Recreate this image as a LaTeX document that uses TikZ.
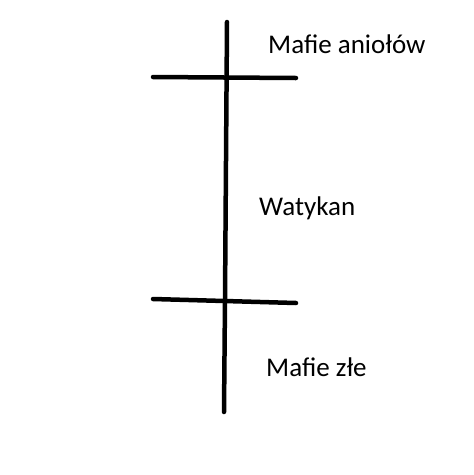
\documentclass[tikz,border=0pt]{standalone}
\usepackage{fontspec}
\setmainfont{Carlito}
\begin{document}
\begin{tikzpicture}[x=1pt,y=-1pt,
  stroke/.style={line width=4.5pt,line cap=round,black},
  label/.style={anchor=base west,inner sep=0pt,font=\fontsize{27}{31}\selectfont}]
\useasboundingbox (0,0) rectangle (474,475);
\fill[white] (0,0) rectangle (474,475);
\coordinate (vtop) at (227,22);
\coordinate (vmid) at (225,300);
\coordinate (vbot) at (224,412);
\draw[stroke] (vtop) -- (vmid) -- (vbot);
\coordinate (h1l) at (153,77);
\coordinate (h1r) at (296,78);
\draw[stroke] (h1l) -- (h1r);
\coordinate (h2l) at (153,299);
\coordinate (h2r) at (296,303);
\draw[stroke] (h2l) -- (h2r);
\node[label] (angels) at (268,53) {Mafie aniołów};
\node[label] (vatican) at (259,215) {Watykan};
\node[label] (evil) at (266,376) {Mafie złe};
\end{tikzpicture}
\end{document}
